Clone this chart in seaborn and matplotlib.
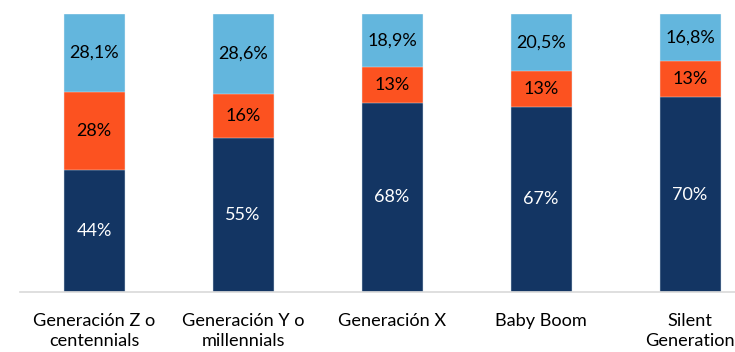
import matplotlib
matplotlib.use("Agg")
import matplotlib.pyplot as plt
import numpy as np
import pandas as pd
import seaborn as sns

# Generational breakdown (percentages per segment)
categories = ["Generación Z o\ncentennials", "Generación Y o\nmillennials",
              "Generación X", "Baby Boom", "Silent\nGeneration"]
bottom_vals = [44, 55, 68, 67, 70]
middle_vals = [28, 16, 13, 13, 13]
top_vals = [28.1, 28.6, 18.9, 20.5, 16.8]
bottom_labels = ["44%", "55%", "68%", "67%", "70%"]
middle_labels = ["28%", "16%", "13%", "13%", "13%"]
top_labels = ["28,1%", "28,6%", "18,9%", "20,5%", "16,8%"]

c_bottom = "#133563"
c_middle = "#FC5220"
c_top = "#63B6DD"

sns.set_theme(style="white")
plt.rcParams["font.family"] = ["Lato", "DejaVu Sans"]

# 100% stacked: normalise each column to its total
b = np.array(bottom_vals, dtype=float)
m = np.array(middle_vals, dtype=float)
t = np.array(top_vals, dtype=float)
tot = b + m + t
b_n, m_n, t_n = b / tot * 100, m / tot * 100, t / tot * 100

df = pd.DataFrame({
    "cat": categories,
    "lvl1": b_n,
    "lvl2": b_n + m_n,
    "lvl3": b_n + m_n + t_n,
})

fig = plt.figure(figsize=(7.35, 3.52), dpi=100)
ax = fig.add_axes([19.5 / 735, 60 / 352, 745 / 735, 278 / 352])

bw = 61 / 149
common = dict(x="cat", order=categories, width=bw, ax=ax,
              edgecolor="#EAF2F8", linewidth=0.3)
sns.barplot(data=df, y="lvl3", color=c_top, saturation=1, **common)
sns.barplot(data=df, y="lvl2", color=c_middle, saturation=1, **common)
sns.barplot(data=df, y="lvl1", color=c_bottom, saturation=1, **common)

fs = 13
for i in range(len(categories)):
    ax.text(i, b_n[i] / 2, bottom_labels[i], ha="center", va="center",
            color="white", fontsize=fs)
    ax.text(i, b_n[i] + m_n[i] / 2, middle_labels[i], ha="center",
            va="center", color="black", fontsize=fs)
    ax.text(i, b_n[i] + m_n[i] + t_n[i] / 2, top_labels[i], ha="center",
            va="center", color="black", fontsize=fs)

ax.set_ylim(0, 100)
ax.set_xlim(-0.5, len(categories) - 0.5)
ax.set_xlabel("")
ax.set_ylabel("")
ax.set_yticks([])
ax.tick_params(axis="x", length=0, pad=15, labelsize=13.1, colors="black")
ax.set_xticks(range(len(categories)))
ax.set_xticklabels(categories, linespacing=1.3)
for s in ["top", "left", "right"]:
    ax.spines[s].set_visible(False)
ax.spines["bottom"].set_color("#D9D9D9")
ax.spines["bottom"].set_linewidth(1.2)
ax.set_facecolor("white")

fig.savefig("out.png", dpi=100, facecolor="white")
